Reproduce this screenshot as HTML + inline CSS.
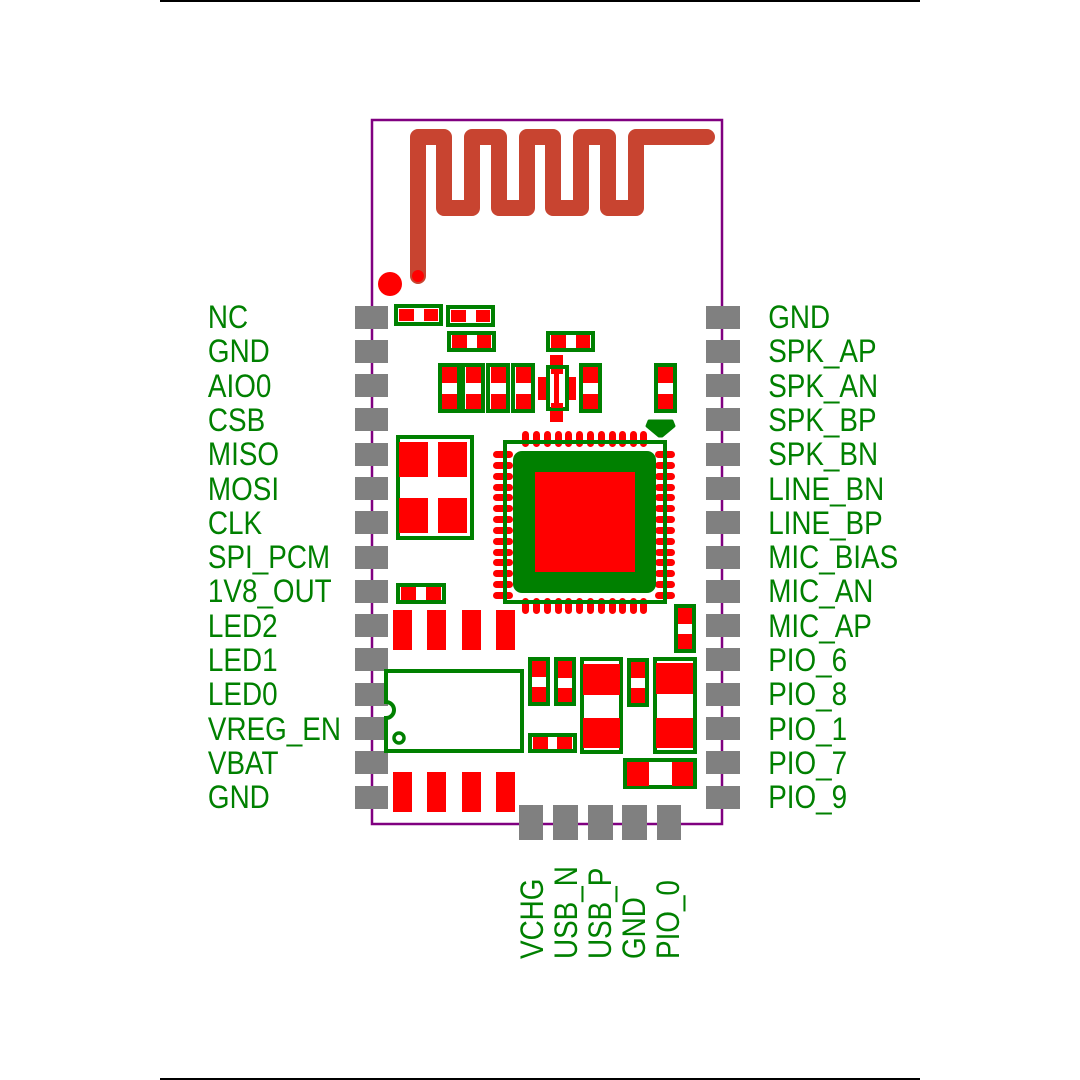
<!DOCTYPE html>
<html><head><meta charset="utf-8"><style>html,body{margin:0;padding:0;background:#fff}svg{display:block}</style></head>
<body>
<svg width="1080" height="1080" viewBox="0 0 1080 1080" xmlns="http://www.w3.org/2000/svg">
<rect width="1080" height="1080" fill="#fff"/>
<line x1="160" y1="1" x2="920" y2="1" stroke="#000" stroke-width="2"/>
<line x1="160" y1="1079" x2="920" y2="1079" stroke="#000" stroke-width="2"/>
<rect x="372" y="120" width="350" height="704" fill="none" stroke="#800080" stroke-width="2.5"/>
<!-- antenna -->
<path d="M418,276 L418,137 L444,137 L444,208 L472,208 L472,137 L499,137 L499,208 L527,208 L527,137 L553,137 L553,208 L581,208 L581,137 L608,137 L608,208 L636,208 L636,137 L707,137" fill="none" stroke="#c84430" stroke-width="16" stroke-linejoin="round" stroke-linecap="round"/>
<circle cx="418" cy="276" r="6" fill="#ff0000"/>
<circle cx="390" cy="284" r="12" fill="#ff0000"/>
<!-- gray pads -->
<g fill="#808080">
<rect x="355" y="306" width="33" height="23"/><rect x="355" y="340" width="33" height="23"/><rect x="355" y="374" width="33" height="23"/><rect x="355" y="408" width="33" height="23"/><rect x="355" y="443" width="33" height="23"/><rect x="355" y="477" width="33" height="23"/><rect x="355" y="511" width="33" height="23"/><rect x="355" y="546" width="33" height="23"/><rect x="355" y="580" width="33" height="23"/><rect x="355" y="614" width="33" height="23"/><rect x="355" y="648" width="33" height="23"/><rect x="355" y="683" width="33" height="23"/><rect x="355" y="717" width="33" height="23"/><rect x="355" y="751" width="33" height="23"/><rect x="355" y="786" width="33" height="23"/>
<rect x="706" y="306" width="34" height="23"/><rect x="706" y="340" width="34" height="23"/><rect x="706" y="374" width="34" height="23"/><rect x="706" y="408" width="34" height="23"/><rect x="706" y="443" width="34" height="23"/><rect x="706" y="477" width="34" height="23"/><rect x="706" y="511" width="34" height="23"/><rect x="706" y="546" width="34" height="23"/><rect x="706" y="580" width="34" height="23"/><rect x="706" y="614" width="34" height="23"/><rect x="706" y="648" width="34" height="23"/><rect x="706" y="683" width="34" height="23"/><rect x="706" y="717" width="34" height="23"/><rect x="706" y="751" width="34" height="23"/><rect x="706" y="786" width="34" height="23"/>
<rect x="519" y="805" width="24" height="35"/><rect x="553" y="805" width="25" height="35"/><rect x="588" y="805" width="25" height="35"/><rect x="622" y="805" width="25" height="35"/><rect x="657" y="805" width="24" height="35"/>
</g>
<!-- horizontal resistors -->
<g>
<rect x="396" y="306" width="45" height="18" fill="#fff" stroke="#008000" stroke-width="4"/><rect x="399" y="309" width="15" height="12" fill="#f00"/><rect x="424" y="309" width="14" height="12" fill="#f00"/>
<rect x="448" y="307" width="45" height="18" fill="#fff" stroke="#008000" stroke-width="4"/><rect x="451" y="310" width="15" height="12" fill="#f00"/><rect x="476" y="310" width="14" height="12" fill="#f00"/>
<rect x="449" y="333" width="45" height="17" fill="#fff" stroke="#008000" stroke-width="4"/><rect x="452" y="335" width="15" height="13" fill="#f00"/><rect x="477" y="335" width="14" height="13" fill="#f00"/>
<rect x="550" y="355" width="13" height="67" fill="#f00"/>
<rect x="548" y="333" width="45" height="17" fill="#fff" stroke="#008000" stroke-width="4"/><rect x="551" y="335" width="15" height="13" fill="#f00"/><rect x="576" y="335" width="14" height="13" fill="#f00"/>
<rect x="398" y="585" width="46" height="17" fill="#fff" stroke="#008000" stroke-width="4"/><rect x="401" y="587" width="15" height="13" fill="#f00"/><rect x="426" y="587" width="15" height="13" fill="#f00"/>
<rect x="530" y="735" width="45" height="16" fill="#fff" stroke="#008000" stroke-width="4"/><rect x="533" y="737" width="15" height="12" fill="#f00"/><rect x="557" y="737" width="15" height="12" fill="#f00"/>
<rect x="625" y="760" width="70" height="27" fill="#fff" stroke="#008000" stroke-width="4"/><rect x="627" y="762" width="22" height="24" fill="#f00"/><rect x="672" y="762" width="21" height="24" fill="#f00"/>
</g>
<!-- vertical resistors -->
<g stroke="#008000" stroke-width="4">
<rect x="440" y="365" width="19" height="46" fill="#fff"/><rect x="463" y="365" width="20" height="46" fill="#fff"/><rect x="488" y="365" width="20" height="46" fill="#fff"/><rect x="513" y="365" width="20" height="46" fill="#fff"/><rect x="581" y="365" width="19" height="46" fill="#fff"/><rect x="656" y="365" width="19" height="46" fill="#fff"/>
<rect x="676" y="606" width="18" height="45" fill="#fff"/>
<rect x="530" y="659" width="18" height="45" fill="#fff"/><rect x="556" y="659" width="18" height="45" fill="#fff"/><rect x="629" y="660" width="18" height="45" fill="#fff"/>
</g>
<g fill="#f00">
<rect x="442" y="367" width="15" height="16"/><rect x="442" y="394" width="15" height="15"/>
<rect x="466" y="367" width="15" height="16"/><rect x="466" y="394" width="15" height="15"/>
<rect x="491" y="367" width="15" height="16"/><rect x="491" y="394" width="15" height="15"/>
<rect x="516" y="367" width="15" height="16"/><rect x="516" y="394" width="15" height="15"/>
<rect x="583" y="367" width="15" height="16"/><rect x="583" y="394" width="15" height="15"/>
<rect x="658" y="367" width="15" height="16"/><rect x="658" y="394" width="15" height="15"/>
<rect x="678" y="608" width="14" height="16"/><rect x="678" y="634" width="14" height="15"/>
<rect x="532" y="661" width="14" height="16"/><rect x="532" y="687" width="14" height="15"/>
<rect x="558" y="661" width="14" height="17"/><rect x="558" y="688" width="14" height="14"/>
<rect x="631" y="662" width="14" height="16"/><rect x="631" y="688" width="14" height="15"/>
</g>
<!-- middle cross component -->
<rect x="538" y="377" width="38" height="23" fill="#f00"/>
<rect x="548" y="367" width="19" height="42" fill="#fff" stroke="#008000" stroke-width="4"/>
<rect x="551" y="369" width="12" height="5" fill="#f00"/><rect x="551" y="403" width="12" height="5" fill="#f00"/><rect x="554" y="374" width="5" height="29" fill="#f00"/>
<!-- green marker -->
<path d="M649,421 L672,421 L674,426 L662,436 L659,436 L647,426 Z" fill="#008000" stroke="#008000" stroke-width="3" stroke-linejoin="round"/>
<!-- crystal -->
<rect x="398" y="437" width="74" height="101" fill="#fff" stroke="#008000" stroke-width="4"/>
<g fill="#f00"><rect x="399" y="442" width="29" height="35"/><rect x="438" y="442" width="29" height="35"/><rect x="399" y="498" width="29" height="35"/><rect x="438" y="498" width="29" height="35"/></g>
<!-- IC pads -->
<g fill="#f00">
<g id="tp"><rect x="522" y="431" width="7" height="16" rx="3.5"/><rect x="533" y="431" width="7" height="16" rx="3.5"/><rect x="544" y="431" width="7" height="16" rx="3.5"/><rect x="555" y="431" width="7" height="16" rx="3.5"/><rect x="565" y="431" width="7" height="16" rx="3.5"/><rect x="576" y="431" width="7" height="16" rx="3.5"/><rect x="587" y="431" width="7" height="16" rx="3.5"/><rect x="598" y="431" width="7" height="16" rx="3.5"/><rect x="609" y="431" width="7" height="16" rx="3.5"/><rect x="619" y="431" width="7" height="16" rx="3.5"/><rect x="630" y="431" width="7" height="16" rx="3.5"/><rect x="640" y="431" width="7" height="16" rx="3.5"/></g>
<use href="#tp" y="167"/>
<g id="lp"><rect x="493" y="451" width="20" height="7" rx="3.5"/><rect x="493" y="462" width="20" height="7" rx="3.5"/><rect x="493" y="473" width="20" height="7" rx="3.5"/><rect x="493" y="484" width="20" height="7" rx="3.5"/><rect x="493" y="494" width="20" height="7" rx="3.5"/><rect x="493" y="505" width="20" height="7" rx="3.5"/><rect x="493" y="516" width="20" height="7" rx="3.5"/><rect x="493" y="527" width="20" height="7" rx="3.5"/><rect x="493" y="538" width="20" height="7" rx="3.5"/><rect x="493" y="549" width="20" height="7" rx="3.5"/><rect x="493" y="559" width="20" height="7" rx="3.5"/><rect x="493" y="570" width="20" height="7" rx="3.5"/><rect x="493" y="581" width="20" height="7" rx="3.5"/><rect x="493" y="592" width="20" height="7" rx="3.5"/></g>
<use href="#lp" x="162"/>
</g>
<rect x="505" y="442" width="160" height="160" fill="none" stroke="#008000" stroke-width="4"/>
<rect x="513" y="451" width="143" height="142" rx="9" fill="#008000"/>
<rect x="535" y="472" width="100" height="100" fill="#f00"/>
<!-- red rects rows -->
<g fill="#f00">
<rect x="393" y="610" width="19" height="40"/><rect x="427" y="610" width="19" height="40"/><rect x="462" y="610" width="19" height="40"/><rect x="496" y="610" width="19" height="40"/>
<rect x="393" y="772" width="19" height="40"/><rect x="427" y="772" width="19" height="40"/><rect x="462" y="772" width="19" height="40"/><rect x="496" y="772" width="19" height="40"/>
</g>
<!-- big chip -->
<path d="M386,671 L522,671 L522,751 L386,751 L386,718 A8,8 0 0 0 386,702 Z" fill="#fff" stroke="#008000" stroke-width="4"/>
<circle cx="399" cy="738" r="5" fill="none" stroke="#008000" stroke-width="3.5"/>
<!-- big caps -->
<rect x="582" y="659" width="39" height="93" fill="#fff" stroke="#008000" stroke-width="4"/>
<rect x="583" y="664" width="37" height="31" fill="#f00"/><rect x="583" y="718" width="37" height="30" fill="#f00"/>
<rect x="655" y="659" width="40" height="93" fill="#fff" stroke="#008000" stroke-width="4"/>
<rect x="656" y="663" width="37" height="31" fill="#f00"/><rect x="656" y="718" width="37" height="30" fill="#f00"/>
<!-- labels -->
<g fill="#008000" font-family="Liberation Sans, sans-serif" font-size="32">
<g transform="scale(0.87,1)">
<text x="239" y="328">NC</text><text x="239" y="362">GND</text><text x="239" y="397">AIO0</text><text x="239" y="431">CSB</text><text x="239" y="465">MISO</text><text x="239" y="500">MOSI</text><text x="239" y="534">CLK</text><text x="239" y="568">SPI_PCM</text><text x="239" y="602">1V8_OUT</text><text x="239" y="637">LED2</text><text x="239" y="671">LED1</text><text x="239" y="705">LED0</text><text x="239" y="740">VREG_EN</text><text x="239" y="774">VBAT</text><text x="239" y="808">GND</text>
<text x="883" y="328">GND</text><text x="883" y="362">SPK_AP</text><text x="883" y="397">SPK_AN</text><text x="883" y="431">SPK_BP</text><text x="883" y="465">SPK_BN</text><text x="883" y="500">LINE_BN</text><text x="883" y="534">LINE_BP</text><text x="883" y="568">MIC_BIAS</text><text x="883" y="602">MIC_AN</text><text x="883" y="637">MIC_AP</text><text x="883" y="671">PIO_6</text><text x="883" y="705">PIO_8</text><text x="883" y="740">PIO_1</text><text x="883" y="774">PIO_7</text><text x="883" y="808">PIO_9</text>
</g>
<text transform="translate(543,959) rotate(-90) scale(0.87,1)">VCHG</text>
<text transform="translate(577,959) rotate(-90) scale(0.87,1)">USB_N</text>
<text transform="translate(611,959) rotate(-90) scale(0.87,1)">USB_P</text>
<text transform="translate(645,959) rotate(-90) scale(0.87,1)">GND</text>
<text transform="translate(679,959) rotate(-90) scale(0.87,1)">PIO_0</text>
</g>
</svg>
</body></html>
